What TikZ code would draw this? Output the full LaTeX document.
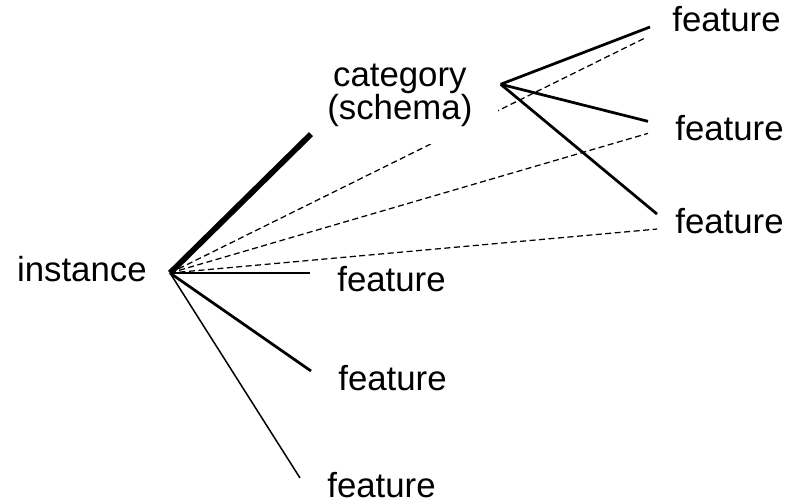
\documentclass[tikz,border=0pt]{standalone}
\usepackage{fontspec}
\setmainfont{Liberation Sans}
\usetikzlibrary{positioning,backgrounds}
\tikzset{
  word/.style={
    font=\fontsize{19.8}{18.8}\selectfont,
    inner ysep=0pt, text depth=0pt
  },
  feat/.style={word, text height=7.6mm, inner xsep=5.4mm},
  cat/.style={
    font=\fontsize{19.8}{18.8}\selectfont,
    fill=white, align=center,
    inner xsep=5.2mm, inner ysep=3.3mm
  },
  heavy/.style={line width=1.15mm},
  link/.style={line width=0.55mm},
  fine link/.style={line width=0.3mm},
  hint/.style={line width=0.25mm, dash pattern=on 1.2mm off 0.7mm}
}

\begin{document}
\begin{tikzpicture}[node distance=10mm]
\useasboundingbox (-34mm,-45.6mm) rectangle (123.4mm,54.6mm);

% ---------- Instance and its features ----------
\node[word, anchor=east, inner xsep=4.6mm, text height=3.6mm] (inst) at (0,0) {instance};
\node[feat, right=28mm of inst.east] (fa) {feature};
\node[feat, right=28.2mm of inst.east, yshift=-19.6mm] (fb) {feature};
\node[feat, right=26mm of inst.east, yshift=-41mm] (fc) {feature};

% ---------- Category and its features ----------
\node[cat, above right=25.8mm and 26.2mm of inst.east] (cat) {category\\(schema)};
\coordinate (cathub) at ([shift={(0.4mm,2.3mm)}]cat.east);
\node[feat, above right=48.2mm and 95mm of inst.east] (fd) {feature};
\node[feat, below=14mm of fd, xshift=0.6mm] (fe) {feature};
\node[feat, below=10.8mm of fe] (ff) {feature};

% ---------- Dashed links (behind the category) ----------
\begin{scope}[on background layer]
  \draw[hint] (inst.east) -- ([yshift=-1.2mm]fd.south west);
  \draw[hint] (inst.east) -- ([yshift=-2.4mm]fe.west);
  \draw[hint] (inst.east) -- ([shift={(1.8mm,-3mm)}]ff.west);
\end{scope}

% ---------- Solid links ----------
\draw[heavy, shorten >=-2.8mm] (inst.east) -- (cat.south west);
\draw[link] (inst.east) -- (fa.west);
\draw[link] (inst.east) -- (fb.west);
\draw[fine link] (inst.east) -- (fc.west);

\draw[link] (cathub) -- ([shift={(1mm,1mm)}]fd.south west);
\draw[link] (cathub) -- (fe.west);
\draw[link] (cathub) -- ([xshift=1.8mm]ff.west);

\end{tikzpicture}
\end{document}
